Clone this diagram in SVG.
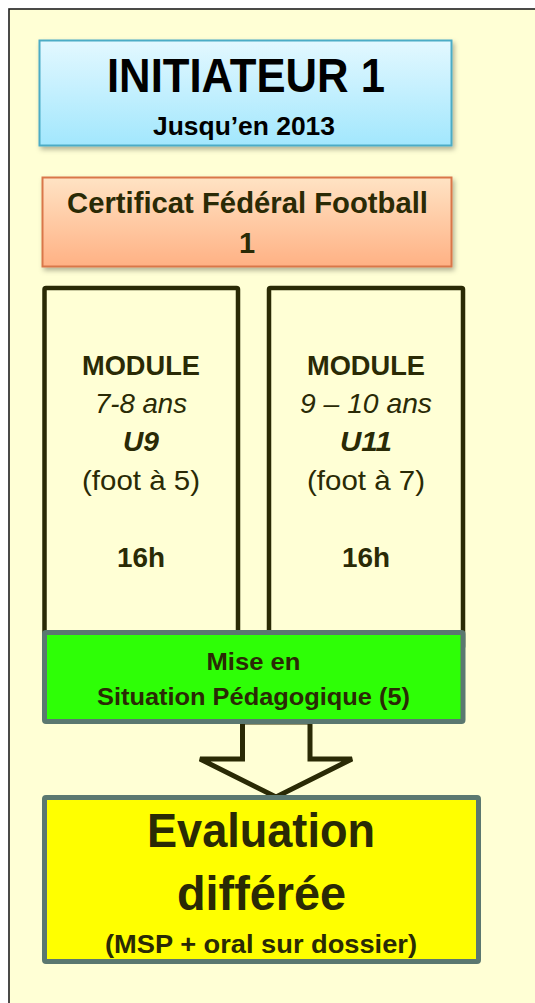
<svg xmlns="http://www.w3.org/2000/svg" width="535" height="1003" viewBox="0 0 535 1003">
<style>
text{font-family:"Liberation Sans",Arial,sans-serif;text-anchor:middle;fill:#2A2A05}
.b{font-weight:bold}
.i{font-style:italic}
.blk{fill:#000}
.mod{fill:none;stroke:#2A2A05;stroke-width:4.5}
.gy{stroke:#5B7870;stroke-width:5}
</style>
<defs>
<linearGradient id="gBlue" x1="0" y1="0" x2="0" y2="1">
<stop offset="0" stop-color="#E3F8FF"/>
<stop offset="1" stop-color="#A2E7FD"/>
</linearGradient>
<linearGradient id="gOrange" x1="0" y1="0" x2="0" y2="1">
<stop offset="0" stop-color="#FFE3C4"/>
<stop offset="1" stop-color="#FFB184"/>
</linearGradient>
<filter id="sh" x="-10%" y="-10%" width="125%" height="130%">
<feDropShadow dx="2" dy="3" stdDeviation="2.5" flood-color="#000" flood-opacity="0.3"/>
</filter>
</defs>
<rect x="0" y="0" width="535" height="1003" fill="#FFFFFF"/>
<rect id="frame" x="9" y="9" width="540" height="1010" fill="#FFFFD5" stroke="#1E1E1E" stroke-width="1.6"/>

<g id="initiateur">
<rect x="39.5" y="40.5" width="412" height="105" fill="url(#gBlue)" stroke="#4BACC6" stroke-width="2" filter="url(#sh)"/>
<text x="246" y="92" class="b blk" font-size="48" textLength="278" lengthAdjust="spacingAndGlyphs">INITIATEUR 1</text>
<text x="244" y="135" class="b blk" font-size="25" textLength="182" lengthAdjust="spacingAndGlyphs">Jusqu’en 2013</text>
</g>

<g id="certificat">
<rect x="42.5" y="177.5" width="409" height="89" fill="url(#gOrange)" stroke="#D9774A" stroke-width="2" filter="url(#sh)"/>
<text x="247.5" y="213" class="b" font-size="29" textLength="361" lengthAdjust="spacingAndGlyphs">Certificat Fédéral Football</text>
<text x="247" y="253" class="b" font-size="29">1</text>
</g>

<g id="module-u9">
<rect x="44.5" y="288" width="193.5" height="360" rx="1.5" class="mod"/>
<text x="141" y="375" class="b" font-size="28" textLength="118" lengthAdjust="spacingAndGlyphs">MODULE</text>
<text x="141" y="413" class="i" font-size="28" textLength="92" lengthAdjust="spacingAndGlyphs">7-8 ans</text>
<text x="141" y="451" class="b i" font-size="28" textLength="36" lengthAdjust="spacingAndGlyphs">U9</text>
<text x="141" y="490" font-size="28" textLength="118" lengthAdjust="spacingAndGlyphs">(foot à 5)</text>
<text x="141" y="567" class="b" font-size="28" textLength="48" lengthAdjust="spacingAndGlyphs">16h</text>
</g>

<g id="module-u11">
<rect x="269" y="288" width="194" height="360" rx="1.5" class="mod"/>
<text x="366" y="375" class="b" font-size="28" textLength="118" lengthAdjust="spacingAndGlyphs">MODULE</text>
<text x="366" y="413" class="i" font-size="28" textLength="132" lengthAdjust="spacingAndGlyphs">9 – 10 ans</text>
<text x="366" y="451" class="b i" font-size="28" textLength="52" lengthAdjust="spacingAndGlyphs">U11</text>
<text x="366" y="490" font-size="28" textLength="118" lengthAdjust="spacingAndGlyphs">(foot à 7)</text>
<text x="366" y="567" class="b" font-size="28" textLength="48" lengthAdjust="spacingAndGlyphs">16h</text>
</g>

<g id="connectors">
<path d="M242.5,722 L242.5,759 L200,759 L276,797 L352,759 L310,759 L310,722 Z" fill="#FFFFD5" stroke="#2A2A05" stroke-width="5" stroke-linejoin="miter"/>
</g>

<g id="msp">
<rect x="44.5" y="632.5" width="418.5" height="89" rx="1.5" fill="#2EFF06" class="gy"/>
<text x="253.5" y="670" class="b" font-size="24" textLength="94" lengthAdjust="spacingAndGlyphs">Mise en</text>
<text x="253.5" y="705" class="b" font-size="24" textLength="313" lengthAdjust="spacingAndGlyphs">Situation Pédagogique (5)</text>
</g>

<g id="evaluation">
<rect x="44.5" y="797.5" width="434" height="164" rx="1.5" fill="#FFFF00" class="gy"/>
<text x="261" y="847" class="b" font-size="48" textLength="228" lengthAdjust="spacingAndGlyphs">Evaluation</text>
<text x="261.5" y="910" class="b" font-size="48" textLength="169" lengthAdjust="spacingAndGlyphs">différée</text>
<text x="261" y="953" class="b" font-size="25" textLength="312" lengthAdjust="spacingAndGlyphs">(MSP + oral sur dossier)</text>
</g>
</svg>
